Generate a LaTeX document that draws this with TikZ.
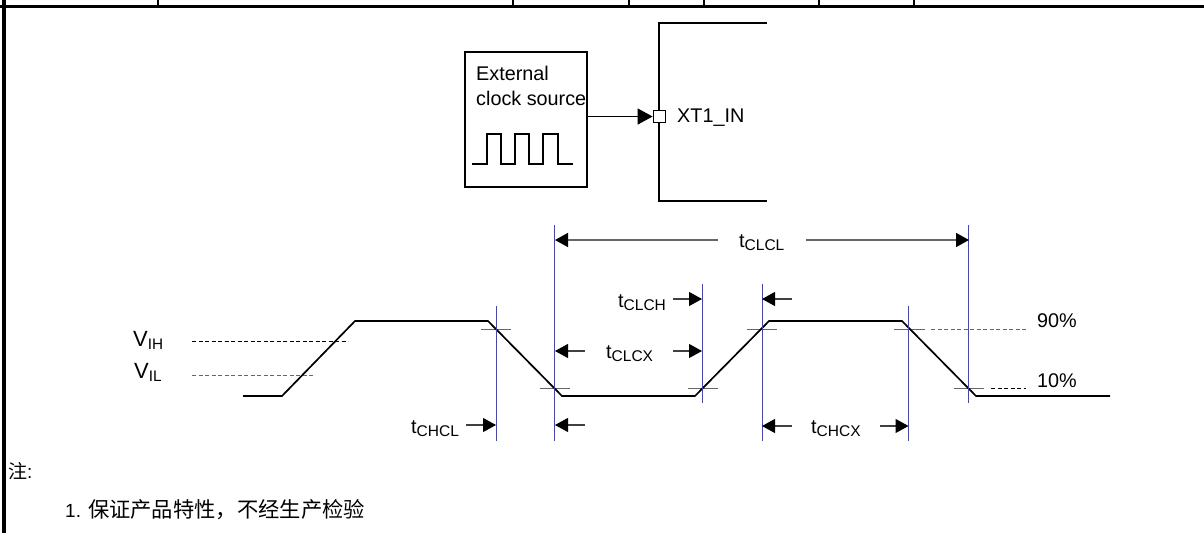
\documentclass[tikz,border=0pt]{standalone}
\usepackage{fontspec}
\setmainfont{Liberation Sans}
\newfontfamily\cjk{Noto Sans CJK SC}
\usetikzlibrary{arrows.meta}
\definecolor{guideblue}{RGB}{60,60,255}
\tikzset{
  x=1pt,y=-1pt,
  frame/.style={line width=2.7pt,black},
  thin line/.style={line width=1.3pt,black},
  wave/.style={line width=1.7pt,black},
  bluel/.style={line width=1.35pt,guideblue},
  tickl/.style={line width=1pt,black!60},
  dashl/.style={line width=.9pt,black!60,dash pattern=on 4pt off 2.5pt},
  dimarrow/.style={line width=1.1pt,black!75,-{Triangle[length=13pt,width=14pt,black]}},
  lab/.style={anchor=base west,inner sep=0pt,font=\fontsize{19.8}{22}\selectfont},
}
\newcommand{\tsub}[1]{t\raisebox{-3.5pt}{\fontsize{15.5}{17}\selectfont #1}}
\newcommand{\vsub}[1]{{\fontsize{22}{24}\selectfont V}\raisebox{-3.5pt}{\fontsize{15.3}{17}\selectfont #1}}
\begin{document}
\begin{tikzpicture}
\useasboundingbox (0,0) rectangle (1204,533);
% table frame
\coordinate (fl) at (0,6.4); \coordinate (fr) at (1204,6.4);
\draw[frame] (fl) -- (fr);
\coordinate (lt) at (4,0); \coordinate (lb) at (4,533);
\draw[line width=4pt] (lt) -- (lb);
\foreach \x in {158,513,629,704,819,914} \draw[frame] (\x,0) -- (\x,6);
% clock source
\node[draw,line width=1.3pt,inner sep=0pt] (src) at (526,119.5) {\rule{0pt}{135pt}\rule{122pt}{0pt}};
\node[lab] (ext) at (476,80) {External};
\node[lab] (clk) at (476,105) {clock source};
\draw[thin line] (472,164) -- (487,164) -- (487,134) -- (501,134) -- (501,164) -- (515,164) -- (515,134) -- (529,134) -- (529,164) -- (543,164) -- (543,134) -- (558,134) -- (558,164) -- (573,164);
% chip
\draw[thin line] (767,23) -- (659,23) -- (659,201) -- (767,201);
\node[draw,fill=white,line width=1.3pt,inner sep=0pt,minimum size=12.5pt] (pin) at (659.5,116.5) {};
\coordinate (srcout) at (588,116.5);
\draw[line width=1.3pt,-{Triangle[length=15pt,width=16pt,black]}] (srcout) -- (pin.west);
\node[lab] (xt) at (677,122) {XT1\_IN};
% thresholds
\draw[tickl] (481,329) -- (511,329);
\draw[tickl] (540,388) -- (570,388);
\draw[tickl] (688,388) -- (718,388);
\draw[tickl] (747,329) -- (777,329);
\draw[tickl] (894,329) -- (925,329);
\draw[tickl] (954,388) -- (984,388);
\draw[dashl] (931,329) -- (1027,329);
\draw[dashl,black] (991,388) -- (1026,388);
\draw[dashl,black] (192,341) -- (348,341);
\draw[dashl] (192,375) -- (315,375);
% waveform
\draw[wave,line join=miter] (243,396) -- (282,396) -- (355,321) -- (488,321) -- (562,396) -- (695,396) -- (769,321) -- (902,321) -- (976,396) -- (1110,396);
% blue guides
\draw[bluel] (496.5,306) -- (496.5,441);
\draw[bluel] (554.5,225) -- (554.5,441);
\draw[bluel] (702.5,284) -- (702.5,403);
\draw[bluel] (762.5,284) -- (762.5,441);
\draw[bluel] (908.5,306) -- (908.5,441);
\draw[bluel] (968.5,225) -- (968.5,403);
% dimension arrows
\draw[dimarrow,line width=1.6pt,black!60] (718,240) -- (555,240);
\draw[dimarrow,line width=1.6pt,black!60] (806,240) -- (969,240);
\draw[dimarrow] (673,299) -- (702,299);
\draw[dimarrow] (792,299) -- (762,299);
\draw[dimarrow] (585,351) -- (555,351);
\draw[dimarrow] (673,351) -- (702,351);
\draw[dimarrow] (466,425) -- (496,425);
\draw[dimarrow] (585,425) -- (555,425);
\draw[dimarrow] (792,426) -- (762,426);
\draw[dimarrow] (880,426) -- (908.5,426);
% labels
\node[lab] (tclcl) at (739,247) {\tsub{CLCL}};
\node[lab] (tclch) at (618,307) {\tsub{CLCH}};
\node[lab] (tclcx) at (606,358) {\tsub{CLCX}};
\node[lab] (tchcl) at (411,433) {\tsub{CHCL}};
\node[lab] (tchcx) at (811,433) {\tsub{CHCX}};
\node[lab] (vih) at (133,346) {\vsub{IH}};
\node[lab] (vil) at (134,378) {\vsub{IL}};
\node[lab] (p90) at (1037,327) {90\%};
\node[lab] (p10) at (1037,387.5) {10\%};
% notes
\node[lab,font=\fontsize{19}{21}\selectfont] (note) at (8,478) {{\cjk 注}:};
\node[lab,font=\fontsize{19}{22}\selectfont] (n1) at (65,517) {1. {\cjk\fontsize{21.3}{23}\selectfont 保证产品特性，不经生产检验}};
\end{tikzpicture}
\end{document}
